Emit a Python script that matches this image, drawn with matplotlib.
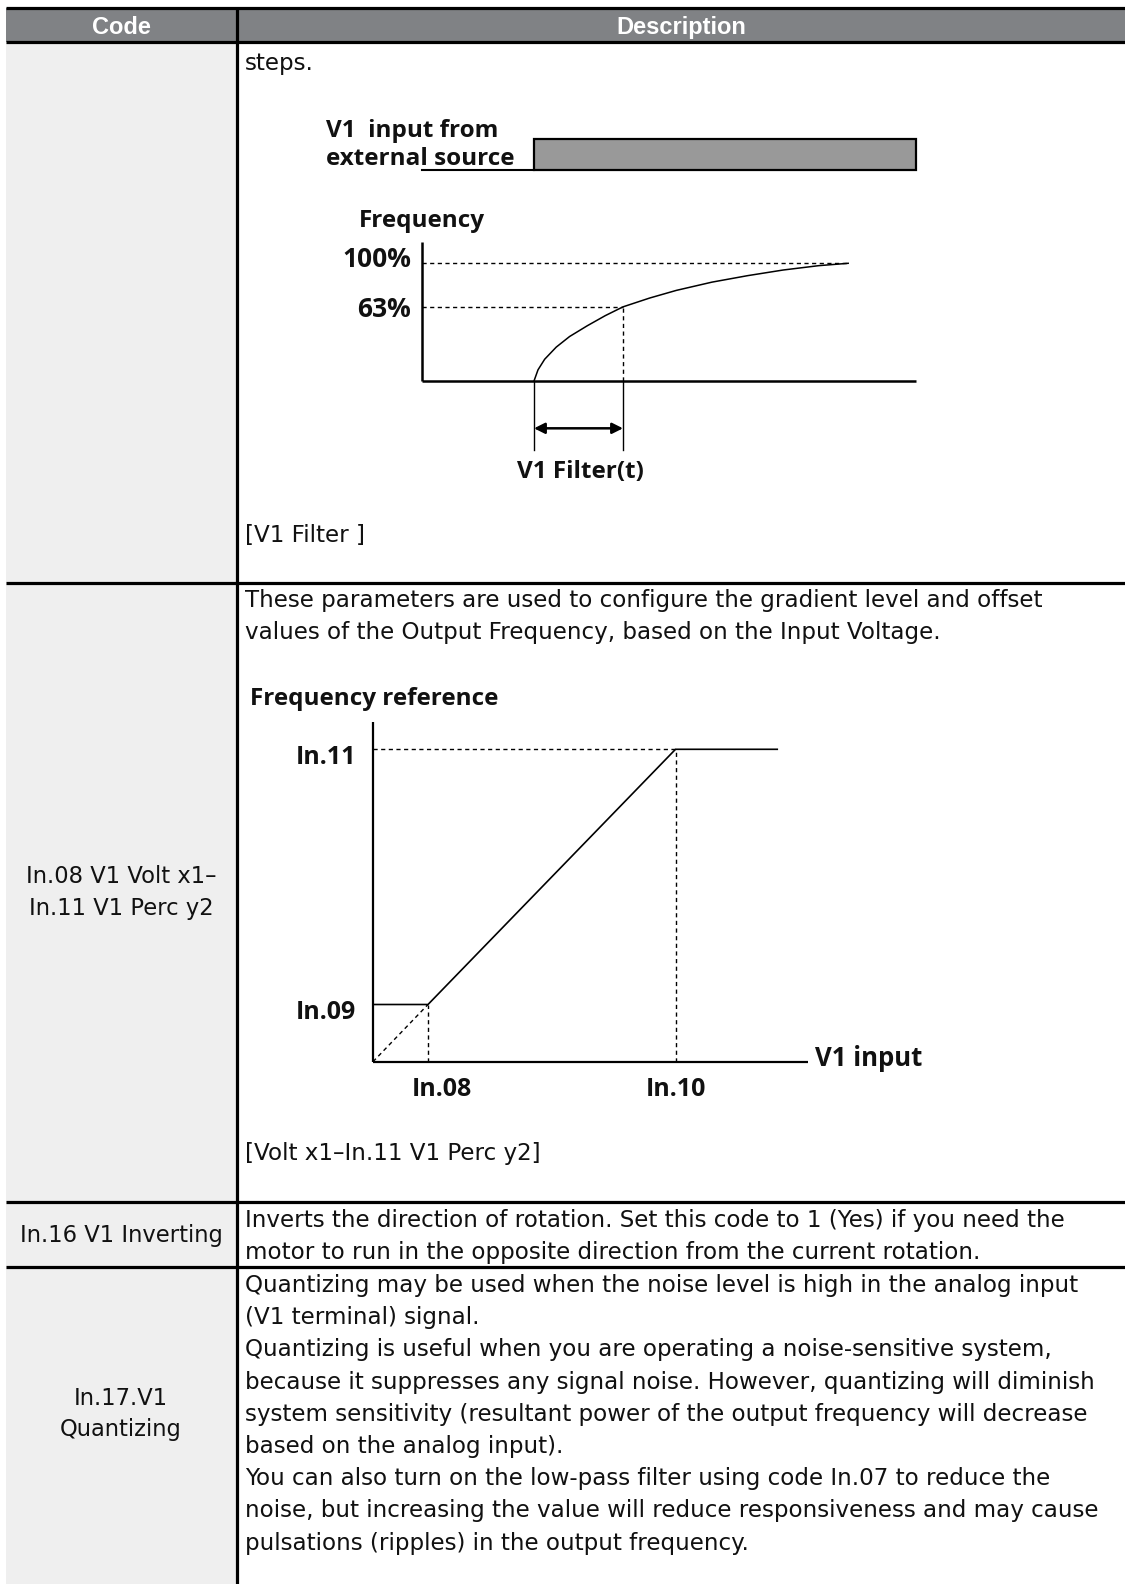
"""
LS drive manual page: V1 filter / V1 gain-offset table
"""
import matplotlib
matplotlib.use("Agg")
import matplotlib.pyplot as plt
from matplotlib.patches import Rectangle

W, H = 1125, 1584
BODY = ["DejaVu Sans"]
HEAD = ["Liberation Sans", "DejaVu Sans"]
DIAG = ["Open Sans", "Liberation Sans", "DejaVu Sans"]

# ---- table content ----
header_labels = ["Code", "Description"]
code_lines = [
    ["In.08 V1 Volt x1–", "In.11 V1 Perc y2"],
    ["In.16 V1 Inverting"],
    ["In.17.V1", "Quantizing"],
]
code_baselines = [[883, 915], [1242], [1405, 1436]]

desc_blocks = [
    (["steps."], 70),
    (["[V1 Filter ]"], 542),
    (["These parameters are used to configure the gradient level and offset",
      "values of the Output Frequency, based on the Input Voltage."], 607),
    (["[Volt x1–In.11 V1 Perc y2]"], 1160),
    (["Inverts the direction of rotation. Set this code to 1 (Yes) if you need the",
      "motor to run in the opposite direction from the current rotation."], 1227),
    (["Quantizing may be used when the noise level is high in the analog input",
      "(V1 terminal) signal.",
      "Quantizing is useful when you are operating a noise-sensitive system,",
      "because it suppresses any signal noise. However, quantizing will diminish",
      "system sensitivity (resultant power of the output frequency will decrease",
      "based on the analog input).",
      "You can also turn on the low-pass filter using code In.07 to reduce the",
      "noise, but increasing the value will reduce responsiveness and may cause",
      "pulsations (ripples) in the output frequency."], 1292),
]

# ---- diagram 1: V1 filter response (time in tau, frequency in %) ----
filter_t = [0, 0.045, 0.12, 0.25, 0.4, 0.6, 0.8, 1.0, 1.3, 1.6, 2.0, 2.4, 2.8, 3.2, 3.53]
filter_pct = [0, 9.5, 18.5, 28.8, 37.8, 47, 55.5, 63, 70.5, 77, 84, 89.5, 94.3, 98, 100]
pct_levels = [100, 63]
pct_labels = ["100%", "63%"]

# ---- diagram 2: gain / offset (V1 input vs frequency reference) ----
ramp_x = [0, 1, 5.5, 7.35]
ramp_y = [1.04, 1.04, 5.68, 5.68]
x_ticks = [1, 5.5]
x_labels = ["In.08", "In.10"]
y_ticks = [1.04, 5.68]
y_labels = ["In.09", "In.11"]

fig = plt.figure(figsize=(W / 100, H / 100), dpi=100)
fig.patch.set_facecolor("white")

# page axes in pixel coordinates
page = fig.add_axes([0, 0, 1, 1])
page.set_xlim(0, W)
page.set_ylim(H, 0)
page.axis("off")

col_x = 237
top_y, head_y = 8, 42
row_lines = [583, 1202, 1267]

page.add_patch(Rectangle((6, head_y), col_x - 6, H - head_y, fc="#efefef", ec="none"))
page.add_patch(Rectangle((6, top_y), W - 6, head_y - top_y, fc="#808285", ec="none"))
for y in [top_y, head_y] + row_lines:
    page.plot([6, W], [y, y], color="black", lw=2.3, solid_capstyle="butt")
page.plot([col_x, col_x], [top_y, H], color="black", lw=2.3, solid_capstyle="butt")

page.text(121, 34, header_labels[0], ha="center", va="baseline", color="white",
          fontsize=17, fontweight="bold", family=HEAD)
page.text(681, 34, header_labels[1], ha="center", va="baseline", color="white",
          fontsize=17, fontweight="bold", family=HEAD)

for lines, bases in zip(code_lines, code_baselines):
    for line, yb in zip(lines, bases):
        page.text(121, yb, line, ha="center", va="baseline", fontsize=16.3,
                  family=BODY, color="#111111")

step = 32.2
for lines, y0 in desc_blocks:
    for i, line in enumerate(lines):
        page.text(245, y0 + i * step, line, ha="left", va="baseline",
                  fontsize=16.6, family=BODY, color="#111111")


def diagram_axes(x0, y0, sx, sy):
    # data origin at pixel (x0, y0), sx / sy pixels per data unit
    ax = fig.add_axes([0, 0, 1, 1])
    ax.set_xlim(-x0 / sx, (W - x0) / sx)
    ax.set_ylim((y0 - H) / sy, y0 / sy)
    ax.axis("off")
    ax.patch.set_alpha(0)
    return ax


dash = (0, (3, 2.5))
lbl = dict(fontweight="bold", family=DIAG, color="#111111")

# diagram 1
d1 = diagram_axes(534, 381, 89, 1.177)
t_axis, t_end, f_top = -1.26, 4.29, 118.4
d1.plot([t_axis, t_axis], [0, f_top], color="black", lw=1.8, solid_capstyle="butt")
d1.plot([t_axis, t_end], [0, 0], color="black", lw=1.8, solid_capstyle="butt")
d1.plot(filter_t, filter_pct, color="black", lw=1.1)
d1.plot([t_axis, filter_t[-1]], [100, 100], color="black", lw=1.0, linestyle=dash)
d1.plot([t_axis, 1.0], [63, 63], color="black", lw=1.0, linestyle=dash)
d1.plot([1.0, 1.0], [0, 63], color="black", lw=1.0, linestyle=dash)
d1.plot([0, 0], [0, -58.6], color="black", lw=1.0)
d1.plot([1.0, 1.0], [0, -58.6], color="black", lw=1.0)
d1.annotate("", xy=(0, -40.2), xytext=(1.0, -40.2),
            arrowprops=dict(arrowstyle="<|-|>", color="black", lw=1.8,
                            mutation_scale=16, shrinkA=0, shrinkB=0))
for lvl, lab, yb in zip(pct_levels, pct_labels, [97.1, 54.6]):
    d1.text(-1.38, yb, lab, ha="right", va="baseline", fontsize=19, **lbl)
d1.text(-1.97, 131, "Frequency", ha="left", va="baseline", fontsize=17.5, **lbl)
d1.text(0.52, -82.7, "V1 Filter(t)", ha="center", va="baseline", fontsize=17.5, **lbl)
d1.text(-2.34, 207.6, "V1  input from", ha="left", va="baseline", fontsize=17.5, **lbl)
d1.text(-2.34, 183.5, "external source", ha="left", va="baseline", fontsize=17.5, **lbl)
d1.plot([t_axis, 0], [179.3, 179.3], color="black", lw=1.5)
d1.add_patch(Rectangle((0, 179.3), t_end, 26.1, fc="#999999", ec="black", lw=1.6))

# diagram 2
d2 = diagram_axes(373, 1061.7, 55, 55)
d2.plot([0, 0], [0, 6.18], color="black", lw=1.6, solid_capstyle="butt")
d2.plot([0, 7.9], [0, 0], color="black", lw=1.6, solid_capstyle="butt")
d2.plot(ramp_x, ramp_y, color="black", lw=1.2)
d2.plot([0, ramp_x[1]], [0, ramp_y[1]], color="black", lw=1.0, linestyle=dash)
d2.plot([ramp_x[1], ramp_x[1]], [0, ramp_y[1]], color="black", lw=1.0, linestyle=dash)
d2.plot([ramp_x[2], ramp_x[2]], [0, ramp_y[2]], color="black", lw=1.0, linestyle=dash)
d2.plot([0, ramp_x[2]], [ramp_y[2], ramp_y[2]], color="black", lw=1.0, linestyle=dash)
for xt, lab in zip(x_ticks, x_labels):
    d2.text(xt + 0.25 if xt < 2 else xt, -0.62, lab, ha="center", va="baseline",
            fontsize=18, **lbl)
for yt, lab in zip(y_ticks, y_labels):
    d2.text(-0.31, yt - 0.27, lab, ha="right", va="baseline", fontsize=18, **lbl)
d2.text(8.04, -0.08, "V1 input", ha="left", va="baseline", fontsize=18.5, **lbl)
d2.text(-2.24, 6.49, "Frequency reference", ha="left", va="baseline", fontsize=17.5, **lbl)

plt.savefig("out.png", dpi=100)
